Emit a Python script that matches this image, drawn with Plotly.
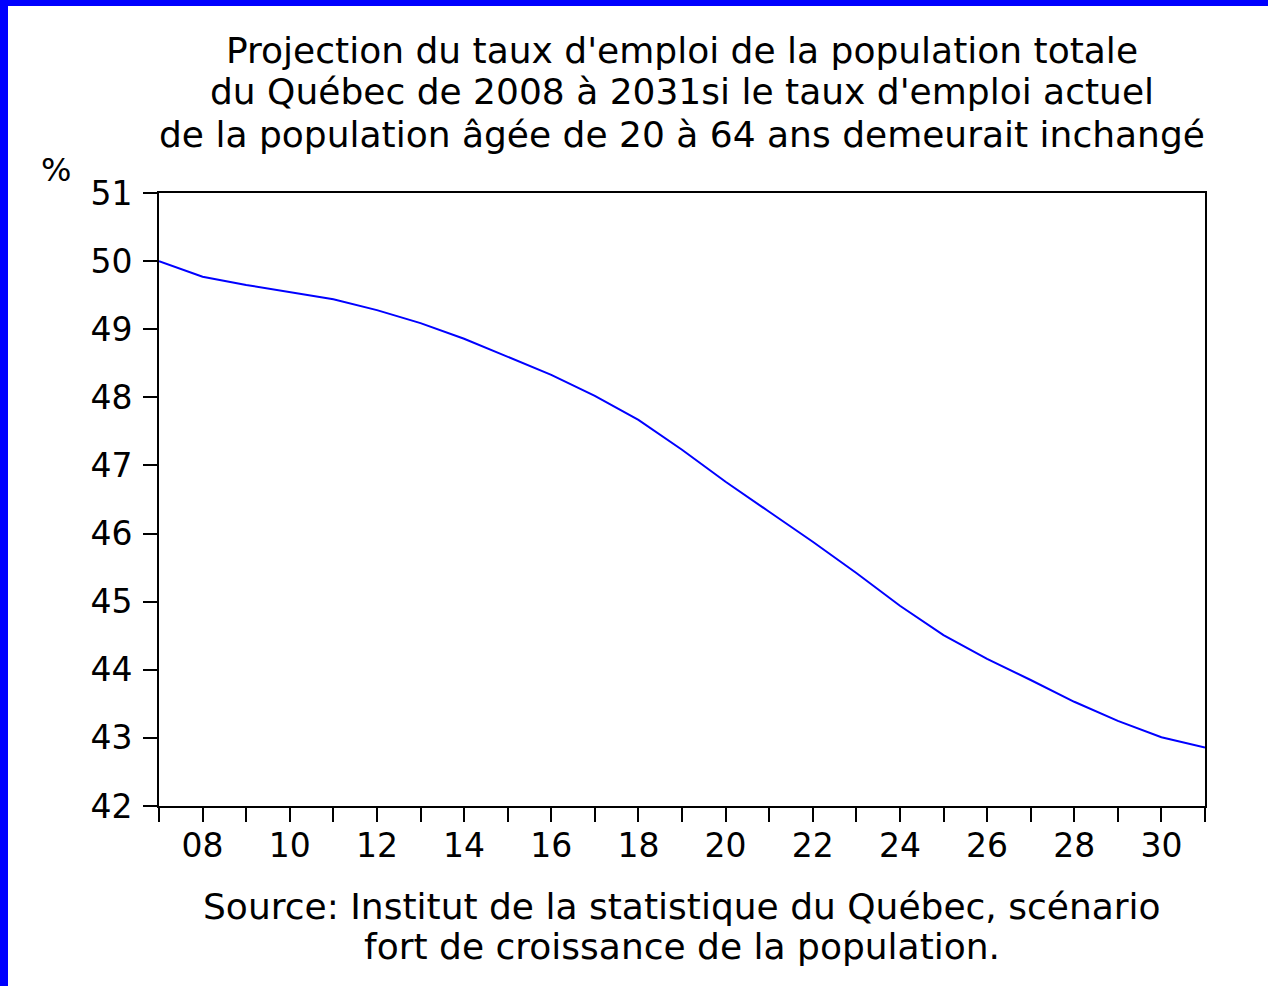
import plotly.graph_objects as go

years = list(range(2007, 2032))
taux_emploi = [50.00, 49.77, 49.65, 49.55, 49.44, 49.28, 49.09, 48.86, 48.59,
               48.33, 48.02, 47.67, 47.23, 46.76, 46.32, 45.88, 45.42, 44.94,
               44.51, 44.16, 43.85, 43.53, 43.25, 43.01, 42.86]
tick_labels = ["%02d" % (y % 100) if y % 2 == 0 else "" for y in years]

titre = ["Projection du taux d'emploi de la population totale",
         "du Québec de 2008 à 2031si le taux d'emploi actuel",
         "de la population âgée de 20 à 64 ans demeurait inchangé"]
source = ["Source: Institut de la statistique du Québec, scénario",
          "fort de croissance de la population."]

W, H = 1268, 986
L, R, T, B = 159, 63, 193, 180
pw, ph = W - L - R, H - T - B
FONT = "DejaVu Sans"


def px_x(p):
    return (p - L) / pw


def px_y(p):
    return (H - B - p) / ph


fig = go.Figure()
fig.add_trace(go.Scatter(x=years, y=taux_emploi, mode="lines",
                         line=dict(color="#0000FF", width=2), showlegend=False))

fig.update_layout(
    width=W, height=H,
    margin=dict(l=L, r=R, t=T, b=B),
    paper_bgcolor="white", plot_bgcolor="white",
    font=dict(family=FONT, size=33, color="black"),
    xaxis=dict(range=[2007, 2031], tickvals=years, ticktext=tick_labels,
               ticks="outside", ticklen=14, tickwidth=2, tickcolor="black",
               ticklabelstandoff=-5,
               showline=True, linecolor="black", linewidth=2, mirror=True,
               showgrid=False, zeroline=False),
    yaxis=dict(range=[42, 51], dtick=1, ticks="outside", ticklen=14,
               tickwidth=2, tickcolor="black", ticklabelstandoff=4,
               showline=True, linecolor="black", linewidth=2, mirror=True,
               showgrid=False, zeroline=False),
)

# titre et source, une ligne par annotation
for ligne, yc in zip(titre, [50, 92, 134]):
    fig.add_annotation(text=ligne, x=0.5, y=px_y(yc), xref="paper", yref="paper",
                       showarrow=False, xanchor="center", yanchor="middle",
                       font=dict(size=36))
for ligne, yc in zip(source, [906, 946]):
    fig.add_annotation(text=ligne, x=0.5, y=px_y(yc), xref="paper", yref="paper",
                       showarrow=False, xanchor="center", yanchor="middle",
                       font=dict(size=36))
fig.add_annotation(text="%", x=px_x(56), y=px_y(170), xref="paper", yref="paper",
                   showarrow=False, xanchor="center", yanchor="middle",
                   font=dict(size=32))

# bordure bleue (gauche et haut)
fig.add_shape(type="rect", xref="paper", yref="paper",
              x0=px_x(0), x1=px_x(8), y0=px_y(H), y1=px_y(0),
              fillcolor="#0000FF", line_width=0, layer="above")
fig.add_shape(type="rect", xref="paper", yref="paper",
              x0=px_x(0), x1=px_x(W), y0=px_y(6), y1=px_y(0),
              fillcolor="#0000FF", line_width=0, layer="above")

fig.write_html("out.html", config={"displayModeBar": False},
               post_script="document.body.style.margin='0';")
